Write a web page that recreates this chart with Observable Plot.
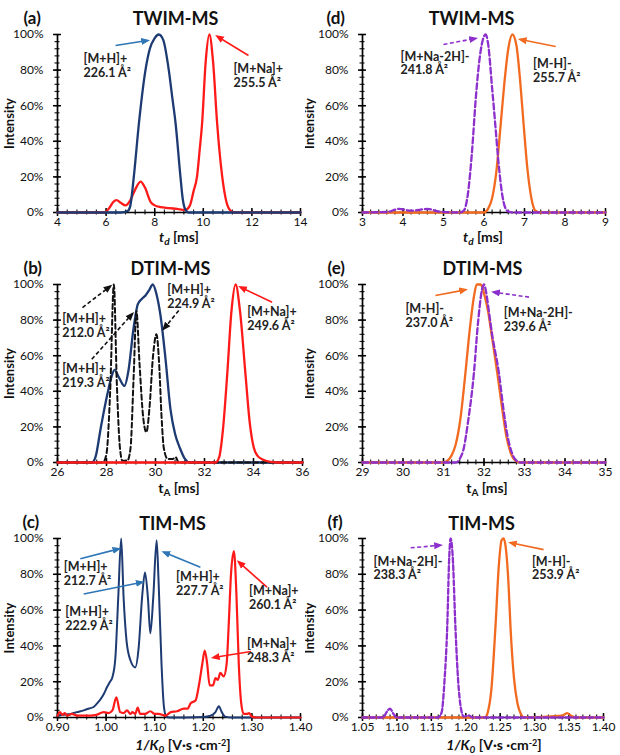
<!DOCTYPE html>
<html><head><meta charset="utf-8">
<script src="https://cdn.jsdelivr.net/npm/d3@7"></script>
<script src="https://cdn.jsdelivr.net/npm/@observablehq/plot@0.6"></script>
<style>
body{margin:0;background:#fff;}
#wrap{position:relative;width:620px;height:755px;overflow:hidden;background:#fff;}
.panel{position:absolute;}
</style></head><body><div id="wrap"></div>
<script>
const FONT = "Lato, 'Open Sans', 'DejaVu Sans', sans-serif";
const NAVY = "#1d3b72", BLUEA = "#2e75b6", RED = "#ff1a1a", ORANGE = "#f26a1f", PURPLE = "#8c2fcc", BLACK = "#111";

// ---------- tick values ----------
const Y_TICKS = [0, 20, 40, 60, 80, 100];
const xTicksA = [4, 6, 8, 10, 12, 14];
const xTicksD = [3, 4, 5, 6, 7, 8, 9];
const xTicksB = [26, 28, 30, 32, 34, 36];
const xTicksE = [29, 30, 31, 32, 33, 34, 35];
const xTicksC = [0.9, 1.0, 1.1, 1.2, 1.3, 1.4];
const xTicksF = [1.05, 1.10, 1.15, 1.20, 1.25, 1.30, 1.35, 1.40];

// ---------- (a) TWIM-MS positive ----------
const twimPosH = [[4,0],[6.6,0],[6.9,1],[7.0,4],[7.14,20],[7.35,50],[7.62,80],[7.8,92],[8.0,98],[8.17,100],[8.35,97],[8.58,80],[8.72,65],[8.86,50],[9.06,20],[9.15,8],[9.25,2],[9.4,0],[14,0]];
const twimPosNa = [[4,0],[5.9,0],[6.1,2],[6.3,6],[6.43,7],[6.6,5.5],[6.8,4],[7.0,7],[7.2,13],[7.42,17.4],[7.6,14],[7.83,6],[8.0,4],[8.24,3],[8.6,2.5],[8.92,2],[9.27,1.5],[9.45,4],[9.6,12],[9.74,20],[9.85,35],[9.95,50],[10.1,85],[10.25,100],[10.4,85],[10.57,50],[10.78,20],[10.95,6],[11.12,1],[11.3,0],[14,0]];
// ---------- (d) TWIM-MS negative ----------
const twimNegNa = [[3,0],[3.6,0.3],[3.9,2],[4.2,1],[4.6,2],[4.9,0.5],[5.4,0],[5.5,1],[5.6,10],[5.7,33],[5.8,65],[5.9,88],[6.0,99],[6.04,100],[6.1,95],[6.2,70],[6.28,49],[6.35,30],[6.45,10],[6.57,1],[6.7,0],[9,0]];
const twimNegH = [[3,0],[6.0,0],[6.1,2],[6.2,8],[6.3,22],[6.41,49],[6.5,72],[6.6,92],[6.7,100],[6.8,94],[6.9,72],[6.98,49],[7.07,25],[7.17,8],[7.27,1],[7.4,0],[9,0]];
// ---------- (b) DTIM-MS positive ----------
const dtimPosH = [[26,0],[27.4,0],[27.55,3],[27.76,19],[28.03,38],[28.2,48],[28.33,52],[28.5,48],[28.73,43],[28.9,52],[29.1,75],[29.28,89],[29.45,92],[29.6,94],[29.75,97],[29.89,100],[30.05,94],[30.2,83],[30.41,58],[30.61,30],[30.8,16],[31.0,8],[31.2,2],[31.4,0],[36,0]];
const dtimPosHconf = [[26,0],[27.85,0],[28.0,5],[28.15,40],[28.3,100],[28.42,45],[28.55,8],[28.65,1],[28.85,1],[28.98,8],[29.11,49],[29.22,85],[29.35,55],[29.5,25],[29.63,17],[29.75,30],[29.9,60],[30.04,72],[30.15,55],[30.25,25],[30.34,8],[30.5,2],[30.7,2],[30.82,3],[30.95,0],[36,0]];
const dtimPosNa = [[26,0],[32.45,0],[32.6,3],[32.75,18],[32.93,50],[33.1,85],[33.27,100],[33.45,85],[33.67,50],[33.85,22],[34.0,9],[34.15,4],[34.4,1.5],[34.7,0.3],[35,0],[36,0]];
// ---------- (e) DTIM-MS negative ----------
const dtimNegH = [[29,0],[31.0,0],[31.1,1],[31.2,4],[31.3,10],[31.42,25],[31.54,50],[31.65,75],[31.75,93],[31.82,100],[31.92,100],[32.0,95],[32.1,85],[32.2,70],[32.33,50],[32.45,30],[32.55,15],[32.65,6],[32.78,1],[32.9,0],[35,0]];
const dtimNegNa = [[29,0],[31.3,0],[31.4,2],[31.5,8],[31.6,22],[31.75,50],[31.85,78],[31.95,97],[32.0,100],[32.05,96],[32.12,85],[32.2,72],[32.37,50],[32.48,30],[32.58,15],[32.68,6],[32.8,1],[32.9,0],[35,0]];
// ---------- (c) TIM-MS positive ----------
const timPosH = [[0.9,1],[0.91,1.5],[0.927,2],[0.94,3],[0.954,4],[0.965,5],[0.975,6],[0.982,8],[0.988,10],[0.995,13],[1.002,17],[1.008,20],[1.013,22.5],[1.019,33],[1.025,67],[1.031,100],[1.036,67],[1.042,43],[1.05,32],[1.06,28],[1.067,39],[1.074,67],[1.08,81],[1.086,67],[1.091,47],[1.097,67],[1.104,99],[1.108,76],[1.114,30],[1.119,6],[1.124,0.5],[1.13,0],[1.2,0.3],[1.215,1],[1.225,3],[1.232,6.3],[1.238,3],[1.245,0.5],[1.26,0],[1.4,0]];
const timPosNa = [[0.9,1],[0.905,3],[0.91,1.5],[0.915,2.5],[0.92,1],[0.93,2],[0.94,1],[0.96,1],[0.98,1.5],[0.995,3],[1.005,2.5],[1.013,4],[1.021,11.3],[1.029,3],[1.036,2.5],[1.043,4],[1.05,2],[1.054,3],[1.06,2],[1.065,5.5],[1.07,2],[1.08,2],[1.091,3.5],[1.1,2],[1.108,2],[1.122,1],[1.133,3],[1.146,3.5],[1.16,5],[1.168,5],[1.174,8],[1.184,9.5],[1.191,18],[1.198,30],[1.203,37.4],[1.208,30],[1.213,18],[1.22,18],[1.225,22],[1.23,21],[1.235,25],[1.242,23],[1.248,30],[1.252,50],[1.257,80],[1.263,93],[1.268,70],[1.273,30],[1.278,8],[1.283,2],[1.29,2],[1.294,2.5],[1.3,0.5],[1.31,0],[1.4,0]];
// ---------- (f) TIM-MS negative ----------
const timNegNa = [[1.05,0],[1.08,0],[1.085,3],[1.09,5],[1.095,2],[1.1,0],[1.16,0],[1.165,3],[1.169,20],[1.173,50],[1.176,90],[1.178,100],[1.181,90],[1.185,50],[1.189,20],[1.193,5],[1.197,0.5],[1.204,1.2],[1.21,0],[1.4,0]];
const timNegH = [[1.05,0],[1.228,0],[1.232,3],[1.237,15],[1.243,50],[1.248,85],[1.252,99],[1.255,100],[1.258,95],[1.262,75],[1.265,50],[1.27,22],[1.275,8],[1.28,2],[1.285,0],[1.34,1],[1.347,2.5],[1.353,1],[1.36,0],[1.4,0]];

// ---------- annotations ----------
const labA = [{x:5.07,y:82.6,t:"[M+H]+\n226.1 Å²"},{x:11.24,y:77,t:"[M+Na]+\n255.5 Å²"}];
const arrA_H = [{x1:6.39,y1:93.8,x2:7.70,y2:96.6}];
const arrA_Na = [{x1:11.86,y1:88.2,x2:10.58,y2:98.9}];
const labD = [{x:3.94,y:84,t:"[M+Na-2H]-\n241.8 Å²"},{x:7.21,y:79.7,t:"[M-H]-\n255.7 Å²"}];
const arrD_Na = [{x1:5.0,y1:94.4,x2:5.79,y2:97.8}];
const arrD_H = [{x1:7.77,y1:93.3,x2:6.90,y2:97.2}];
const labB = [{x:26.19,y:77,t:"[M+H]+\n212.0 Å²"},{x:26.19,y:49,t:"[M+H]+\n219.3 Å²"},{x:30.48,y:93.3,t:"[M+H]+\n224.9 Å²"},{x:33.74,y:80.7,t:"[M+Na]+\n249.6 Å²"}];
const arrB_conf = [{x1:27.02,y1:87,x2:28.15,y2:99},{x1:27.4,y1:58,x2:29.05,y2:83.5},{x1:30.95,y1:85.4,x2:30.34,y2:75.1}];
const arrB_Na = [{x1:34.76,y1:90,x2:33.47,y2:98.5}];
const labE = [{x:30.06,y:82.5,t:"[M-H]-\n237.0 Å²"},{x:32.49,y:80.2,t:"[M+Na-2H]-\n239.6 Å²"}];
const arrE_H = [{x1:30.80,y1:93.8,x2:31.54,y2:97}];
const arrE_Na = [{x1:33.11,y1:92.9,x2:32.24,y2:95.7}];
const labC = [{x:0.913,y:80.2,t:"[M+H]+\n212.7 Å²"},{x:0.916,y:55.1,t:"[M+H]+\n222.9 Å²"},{x:1.144,y:74.7,t:"[M+H]+\n227.7 Å²"},{x:1.294,y:66.8,t:"[M+Na]+\n260.1 Å²"},{x:1.29,y:37.4,t:"[M+Na]+\n248.3 Å²"}];
const arrC_H = [{x1:0.947,y1:88.7,x2:1.026,y2:94.2},{x1:0.954,y1:69,x2:1.074,y2:75.6},{x1:1.194,y1:84,x2:1.119,y2:92.3}];
const arrC_Na = [{x1:1.331,y1:72.8,x2:1.273,y2:86.8},{x1:1.298,y1:36.9,x2:1.221,y2:33.5}];
const labF = [{x:1.066,y:83.5,t:"[M+Na-2H]-\n238.3 Å²"},{x:1.296,y:83.5,t:"[M-H]-\n253.9 Å²"}];
const arrF_Na = [{x1:1.12,y1:94.8,x2:1.163,y2:96.2}];
const arrF_H = [{x1:1.313,y1:93.8,x2:1.265,y2:97.6}];

// ---------- axis labels ----------
const XL_TD = [{t:"t",i:1},{t:"d",i:1,sub:1},{t:" [ms]"}];
const XL_TA = [{t:"t"},{t:"A",sub:1},{t:" [ms]"}];
const XL_K = [{t:"1/K",i:1},{t:"0",i:1,sub:1},{t:" [V·s ·cm"},{t:"-2",sup:1},{t:"]"}];

const H = 250;
const f0 = d => String(d);
const f2 = d3.format(".2f");
const DASH = "5,3";

const panels = [
  {tag:"(a)", title:"TWIM-MS", left:0, top:0, w:315, ml:57, mr:15, mt:34, xdom:[4,14], xt:xTicksA, fmt:f0, minor:0.4,
   lines:[{d:twimPosNa,c:RED},{d:twimPosH,c:NAVY}], labels:labA, arrows:[{d:arrA_H,c:BLUEA},{d:arrA_Na,c:RED}],
   xl:XL_TD, xlx:179, xly:242, tx:175, tagx:23, tagy:11, yx:9, clip:false},
  {tag:"(b)", title:"DTIM-MS", left:0, top:250, w:315, ml:57, mr:13, mt:34, xdom:[26,36], xt:xTicksB, fmt:f0, minor:0.4,
   lines:[{d:dtimPosH,c:NAVY},{d:dtimPosHconf,c:BLACK,dash:DASH,w:2},{d:dtimPosNa,c:RED}], labels:labB,
   arrows:[{d:arrB_conf,c:BLACK,dash:"4,2.5"},{d:arrB_Na,c:RED}],
   xl:XL_TA, xlx:179, xly:243, tx:170, tagx:23, tagy:11, yx:9, clip:false},
  {tag:"(c)", title:"TIM-MS", left:0, top:505, w:315, ml:57, mr:15, mt:33, xdom:[0.9,1.4], xt:xTicksC, fmt:f2, minor:0.02,
   lines:[{d:timPosH,c:NAVY,w:2},{d:timPosNa,c:RED,w:2.2}], labels:labC, arrows:[{d:arrC_H,c:BLUEA},{d:arrC_Na,c:RED}],
   xl:XL_K, xlx:183, xly:245, tx:172, tagx:22, tagy:10, yx:9, clip:false},
  {tag:"(d)", title:"TWIM-MS", left:305, top:0, w:315, ml:57, mr:15, mt:34, xdom:[3,9], xt:xTicksD, fmt:f0, minor:0.2,
   lines:[{d:twimNegH,c:ORANGE},{d:twimNegNa,c:PURPLE,dash:"6,3"}], labels:labD, arrows:[{d:arrD_Na,c:PURPLE,dash:"4,2.5"},{d:arrD_H,c:ORANGE}],
   xl:XL_TD, xlx:178, xly:242, tx:166, tagx:21, tagy:11, yx:4, clip:true},
  {tag:"(e)", title:"DTIM-MS", left:305, top:250, w:315, ml:57, mr:15, mt:34, xdom:[29,35], xt:xTicksE, fmt:f0, minor:0.2,
   lines:[{d:dtimNegH,c:ORANGE},{d:dtimNegNa,c:PURPLE,dash:"6,3"}], labels:labE, arrows:[{d:arrE_H,c:ORANGE},{d:arrE_Na,c:PURPLE,dash:"4,2.5"}],
   xl:XL_TA, xlx:182, xly:243, tx:177, tagx:22, tagy:11, yx:4, clip:true},
  {tag:"(f)", title:"TIM-MS", left:305, top:505, w:315, ml:57, mr:17, mt:33, xdom:[1.05,1.4], xt:xTicksF, fmt:f2, minor:0.01,
   lines:[{d:timNegH,c:ORANGE},{d:timNegNa,c:PURPLE,dash:"5,2.5"}], labels:labF, arrows:[{d:arrF_Na,c:PURPLE,dash:"4,2.5"},{d:arrF_H,c:ORANGE}],
   xl:XL_K, xlx:189, xly:245, tx:176, tagx:22, tagy:10, yx:4, clip:true}
];

const NS = "http://www.w3.org/2000/svg";
function headMarker(color, context) {
  const doc = (context && context.document) || document;
  const m = doc.createElementNS(NS, "marker");
  m.setAttribute("viewBox", "-5 -5 10 10");
  m.setAttribute("markerWidth", 5.5);
  m.setAttribute("markerHeight", 5.5);
  m.setAttribute("orient", "auto");
  m.setAttribute("refX", 2);
  m.setAttribute("refY", 0);
  const p = doc.createElementNS(NS, "path");
  p.setAttribute("d", "M-5,-4L5,0L-5,4Z");
  p.setAttribute("fill", color);
  p.setAttribute("stroke", "none");
  m.appendChild(p);
  return m;
}

function build(p, useMarker) {
  const [x0, x1] = p.xdom;
  const mb = 38;
  const kx = (x1 - x0) / (p.w - p.ml - p.mr);
  const ky = 100 / (H - p.mt - mb);
  const minorX = d3.range(Math.round((x1 - x0) / p.minor) + 1).map(i => x0 + i * p.minor);
  const minorY = d3.range(0, 101, 4);
  const marks = [
    Plot.ruleX(minorX, {x: d => d, y1: -2.5 * ky, y2: 2.5 * ky, stroke: "#222", strokeWidth: 1.2}),
    Plot.ruleX(p.xt, {x: d => d, y1: -4 * ky, y2: 4 * ky, stroke: "#000", strokeWidth: 1.5}),
    Plot.ruleY(minorY, {y: d => d, x1: x0 - 2.5 * kx, x2: x0 + 2.5 * kx, stroke: "#222", strokeWidth: 1.2}),
    Plot.ruleY(Y_TICKS, {y: d => d, x1: x0 - 4 * kx, x2: x0 + 4 * kx, stroke: "#000", strokeWidth: 1.5}),
    Plot.ruleX([x0], {stroke: "#000", strokeWidth: 1.7}),
    Plot.ruleY([0], {stroke: "#000", strokeWidth: 1.7}),
    Plot.axisX(p.xt, {tickSize: 0, tickPadding: 5, tickFormat: p.fmt, fontSize: 12, color: "#111", label: null}),
    Plot.axisY(Y_TICKS, {tickSize: 0, tickPadding: 14, tickFormat: d => d + "%", fontSize: 12, color: "#111", label: null})
  ];
  for (const s of p.lines) {
    const o = {x: d => d[0], y: d => d[1], stroke: s.c, strokeWidth: s.w || 2.3, curve: "monotone-x"};
    if (s.dash) o.strokeDasharray = s.dash;
    marks.push(Plot.line(s.d, o));
  }
  for (const a of p.arrows) {
    const o = {x1: "x1", y1: "y1", x2: "x2", y2: "y2", stroke: a.c, strokeWidth: 1.6};
    if (a.dash) o.strokeDasharray = a.dash;
    marks.push(useMarker ? Plot.link(a.d, {...o, markerEnd: headMarker}) : Plot.arrow(a.d, {...o, headLength: 8, headAngle: 50}));
  }
  marks.push(Plot.text(p.labels, {x: "x", y: "y", text: "t", textAnchor: "start", lineAnchor: "middle", fontWeight: "bold", fontSize: 12.5, fill: "#222", lineHeight: 1.1}));
  marks.push(Plot.text([p.title], {text: d => d, frameAnchor: "top-left", dx: p.tx - p.ml, dy: 12 - p.mt, textAnchor: "middle", fontWeight: "bold", fontSize: 18, fill: "#111"}));
  marks.push(Plot.text([p.tag], {text: d => d, frameAnchor: "top-left", dx: p.tagx - p.ml, dy: p.tagy - p.mt, textAnchor: "start", fontWeight: "bold", fontSize: 17, fill: "#111"}));
  marks.push(Plot.text(["Intensity"], {text: d => d, frameAnchor: "left", dx: p.yx - p.ml, rotate: -90, textAnchor: "middle", fontWeight: "bold", fontSize: 13, fill: "#111"}));
  return Plot.plot({
    width: p.w, height: H,
    marginLeft: p.ml, marginRight: p.mr, marginTop: p.mt, marginBottom: mb,
    x: {domain: p.xdom}, y: {domain: [0, 100]},
    style: {fontFamily: FONT, fontSize: "12px", background: "transparent", overflow: p.clip ? "hidden" : "visible"},
    marks
  });
}

function addXLabel(svg, p) {
  const t = d3.select(svg).append("text")
    .attr("x", p.xlx).attr("y", p.xly).attr("text-anchor", "middle")
    .attr("font-weight", "bold").attr("font-size", 14).attr("fill", "#111").attr("font-family", FONT);
  for (const s of p.xl) {
    const ts = t.append("tspan").text(s.t);
    if (s.i) ts.attr("font-style", "italic");
    if (s.sub) ts.attr("baseline-shift", "-25%").attr("font-size", 10);
    if (s.sup) ts.attr("baseline-shift", "45%").attr("font-size", 9);
  }
}

const wrap = document.getElementById("wrap");
for (const p of panels) {
  let svg;
  try { svg = build(p, true); } catch (e) { svg = build(p, false); }
  addXLabel(svg, p);
  const div = document.createElement("div");
  div.className = "panel";
  div.style.left = p.left + "px";
  div.style.top = p.top + "px";
  div.style.width = p.w + "px";
  div.style.height = H + "px";
  if (p.clip) div.style.overflow = "hidden";
  div.appendChild(svg);
  wrap.appendChild(div);
}
</script></body></html>
